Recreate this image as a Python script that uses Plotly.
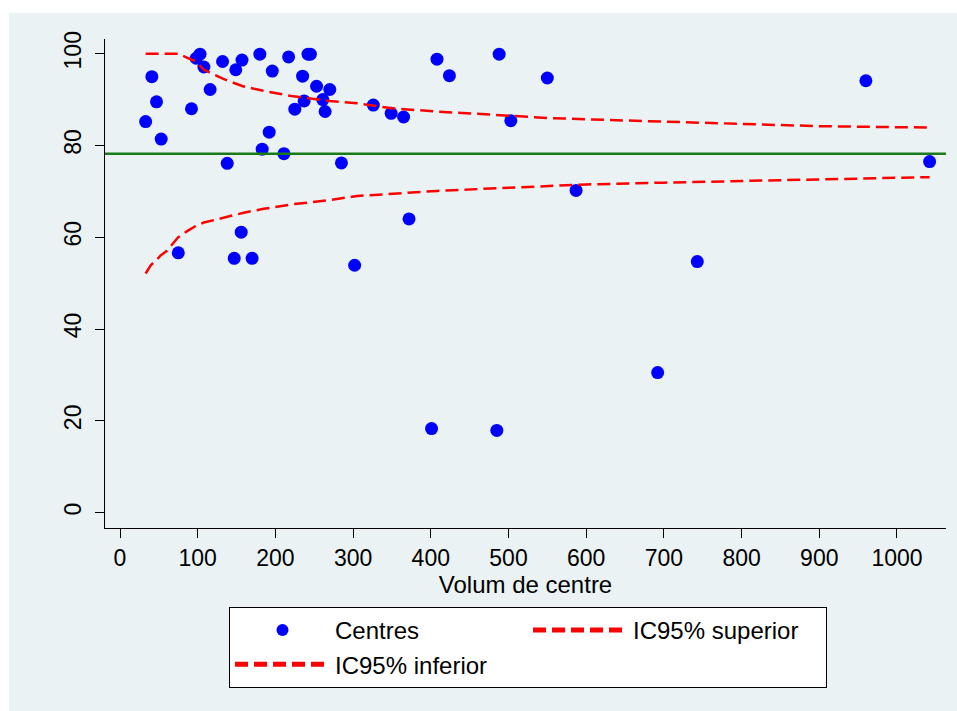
import plotly.graph_objects as go

# Centre volume and rate (%) per centre
centre_volume = [33, 41, 47, 53, 75, 92, 98, 103, 108, 116, 132, 138, 147, 149, 156,
                 157, 170, 180, 183, 192, 196, 211, 217, 225, 235, 237, 242, 245, 253,
                 261, 264, 270, 285, 302, 326, 349, 365, 372, 401, 408, 424, 485, 488,
                 503, 550, 587, 692, 743, 960, 1042]
centre_rate = [85.2, 95.0, 89.5, 81.4, 56.6, 88.0, 99.0, 99.9, 97.1, 92.2, 98.3, 76.1,
               55.4, 96.5, 61.1, 98.6, 55.4, 99.9, 79.2, 82.9, 96.2, 78.2, 99.3, 87.9,
               95.1, 89.7, 99.9, 99.9, 92.9, 90.0, 87.4, 92.2, 76.2, 53.9, 88.8, 87.0,
               86.2, 64.0, 18.3, 98.8, 95.2, 17.9, 99.9, 85.4, 94.7, 70.2, 30.5, 54.7,
               94.1, 76.5]

# Overall rate
overall_rate = 78.2

# 95% confidence limits along centre volume
limit_volume = [33, 40, 47, 52, 60, 75, 88, 98, 108, 133, 158, 185, 223, 270, 305, 327,
                350, 408, 489, 550, 600, 700, 806, 900, 1042]
upper_limit = [100, 100, 100, 100, 100, 100, 99.0, 98.3, 96.5, 94.5, 92.9, 91.9, 90.7,
               89.7, 89.2, 88.6, 88.1, 87.4, 86.6, 86.0, 85.7, 85.2, 84.6, 84.2, 83.9]
lower_limit = [52.1, 54.0, 55.0, 56.0, 57.0, 60.0, 61.5, 62.5, 63.2, 64.3, 65.3, 66.2,
               67.2, 68.1, 69.0, 69.2, 69.5, 70.1, 70.7, 71.1, 71.5, 71.9, 72.3, 72.7, 73.1]

x_ticks = [0, 100, 200, 300, 400, 500, 600, 700, 800, 900, 1000]
y_ticks = [0, 20, 40, 60, 80, 100]
grid_ticks = [20, 40, 60, 80, 100]

FONT = "Liberation Sans, Arial, sans-serif"
BG = "#eaf2f3"
DASH = "13px,6px"

fig = go.Figure()

fig.add_trace(go.Scatter(
    x=centre_volume, y=centre_rate, mode="markers", name="Centres",
    marker=dict(color="#0000ff", size=13, line=dict(width=0)),
))
fig.add_trace(go.Scatter(
    x=limit_volume, y=upper_limit, mode="lines", name="IC95% superior",
    line=dict(color="#ff0000", width=2.5, dash=DASH),
))
fig.add_trace(go.Scatter(
    x=limit_volume, y=lower_limit, mode="lines", name="IC95% inferior",
    line=dict(color="#ff0000", width=2.5, dash=DASH),
))

L, R, T, B = 105, 11, 39, 183
W, H = 957, 711
pw, ph = W - L - R, H - T - B

shapes = [
    # outer shaded frame
    dict(type="rect", xref="paper", yref="paper", layer="below",
         x0=(9 - L) / pw, x1=(W + 5 - L) / pw, y0=-(H + 5 - T - ph) / ph, y1=(ph + T - 13) / ph,
         fillcolor=BG, line=dict(width=0)),
    # overall rate
    dict(type="line", xref="paper", yref="y", x0=0, x1=1, y0=overall_rate, y1=overall_rate,
         line=dict(color="#1a7a1a", width=2.5)),
]
# horizontal grid
for g in grid_ticks:
    shapes.append(dict(type="line", xref="paper", yref="y", x0=0, x1=1, y0=g, y1=g,
                       layer="below", line=dict(color=BG, width=2.5)))

fig.update_layout(
    width=W, height=H,
    margin=dict(l=L, r=R, t=T, b=B),
    paper_bgcolor="white",
    plot_bgcolor="white",
    font=dict(family=FONT, size=24, color="black"),
    shapes=shapes,
    showlegend=True,
    legend=dict(
        orientation="h",
        x=(229 - L) / pw, y=-(607 - T - ph) / ph,
        xanchor="left", yanchor="top",
        bgcolor="white", bordercolor="black", borderwidth=1,
        font=dict(family=FONT, size=24, color="black"),
        itemwidth=95,
        entrywidth=188, entrywidthmode="pixels",
        itemsizing="constant",
    ),
    xaxis=dict(
        range=[-19.3, 1063.1], tickvals=x_ticks, showgrid=False, zeroline=False,
        showline=True, linecolor="black", linewidth=1,
        ticks="outside", ticklen=9, tickcolor="black", tickwidth=1,
        tickfont=dict(size=23),
        title=dict(text="Volum de centre", font=dict(size=24), standoff=0),
    ),
    yaxis=dict(
        range=[-3.36, 103.2], tickvals=y_ticks, showgrid=False, zeroline=False,
        showline=True, linecolor="black", linewidth=1,
        ticks="outside", ticklen=9, tickcolor="black", tickwidth=1,
        tickangle=-90, tickfont=dict(size=23), ticklabelstandoff=5,
    ),
)

fig.write_html("out.html")
